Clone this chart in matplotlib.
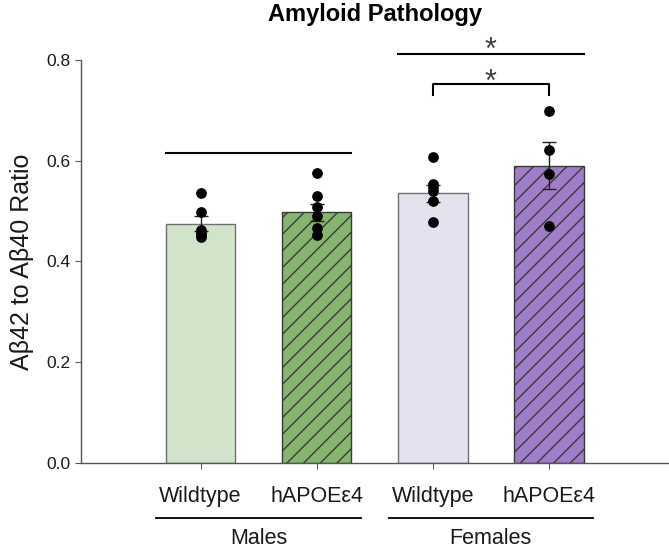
import matplotlib
matplotlib.use('Agg')
import matplotlib.pyplot as plt
from matplotlib.transforms import blended_transform_factory

plt.rcParams['font.family'] = ['Liberation Sans', 'DejaVu Sans']

# data
genotypes = ['Wildtype', 'hAPOE\u03b54', 'Wildtype', 'hAPOE\u03b54']
sexes = ['Males', 'Females']
means = [0.475, 0.497, 0.535, 0.590]
sems = [0.014, 0.017, 0.017, 0.047]
points = [
    [0.535, 0.497, 0.463, 0.456, 0.452, 0.448],
    [0.576, 0.529, 0.507, 0.489, 0.467, 0.453],
    [0.608, 0.553, 0.547, 0.540, 0.520, 0.478],
    [0.699, 0.622, 0.574, 0.471],
]
colors = ['#d1e3c9', '#86b56f', '#e6e1ee', '#a07dc8']
hatches = ['', '//', '', '//']
edges = ['#707070', '#3a3a3a', '#707070', '#3a3a3a']

fig = plt.figure(figsize=(6.69, 5.49), dpi=100)
ax = fig.add_axes([0.121, 0.157, 0.878, 0.734])

x = list(range(len(means)))
for i in x:
    ax.bar(i, means[i], width=0.6, color=colors[i], edgecolor=edges[i],
           hatch=hatches[i], linewidth=1.0, zorder=2)
    ax.errorbar(i, means[i], yerr=sems[i], fmt='none', ecolor='#222222',
                elinewidth=1.0, capsize=5, capthick=1.0, zorder=3)
    ax.scatter([i] * len(points[i]), points[i], s=45, color='black', zorder=4)

ax.set_xlim(-1.03, 4.03)
ax.set_ylim(0, 0.8)
ax.set_yticks([0.0, 0.2, 0.4, 0.6, 0.8])
ax.set_yticklabels(['0.0', '0.2', '0.4', '0.6', '0.8'])
ax.set_xticks(x)
ax.set_xticklabels(genotypes, fontsize=15.5, color='#1a1a1a')
ax.tick_params(axis='x', length=4, pad=13, color='#555555')
ax.tick_params(axis='y', length=4, labelsize=12.5, color='#555555', labelcolor='#1a1a1a')
for s in ['top', 'right']:
    ax.spines[s].set_visible(False)
for s in ['left', 'bottom']:
    ax.spines[s].set_color('#555555')
    ax.spines[s].set_linewidth(1.0)

ax.set_ylabel('A\u03b242 to A\u03b240 Ratio', fontsize=18, color='#1a1a1a', labelpad=9)
ax.set_title('Amyloid Pathology', fontsize=17, fontweight='bold', pad=28)

# group labels under the ticks
trans = blended_transform_factory(ax.transData, ax.transAxes)
for j, sex in enumerate(sexes):
    c = 0.5 + 2 * j
    ax.plot([c - 0.88, c + 0.88], [-0.137, -0.137], color='black', lw=1.3,
            transform=trans, clip_on=False)
    ax.text(c, -0.187, sex, transform=trans, ha='center', va='center',
            fontsize=15.5, color='#1a1a1a')

# significance marks
ax.plot([-0.3, 1.3], [0.615, 0.615], color='black', lw=1.5, clip_on=False, zorder=5)
ax.plot([1.7, 3.3], [0.812, 0.812], color='black', lw=1.5, clip_on=False, zorder=5)
ax.text(2.5, 0.788, '*', ha='center', va='bottom', fontsize=22, color='#444444')
ax.plot([2, 2, 3, 3], [0.730, 0.752, 0.752, 0.730], color='black', lw=1.5,
        clip_on=False, zorder=5)
ax.text(2.5, 0.725, '*', ha='center', va='bottom', fontsize=22, color='#444444')

fig.savefig('out.png', dpi=100)
